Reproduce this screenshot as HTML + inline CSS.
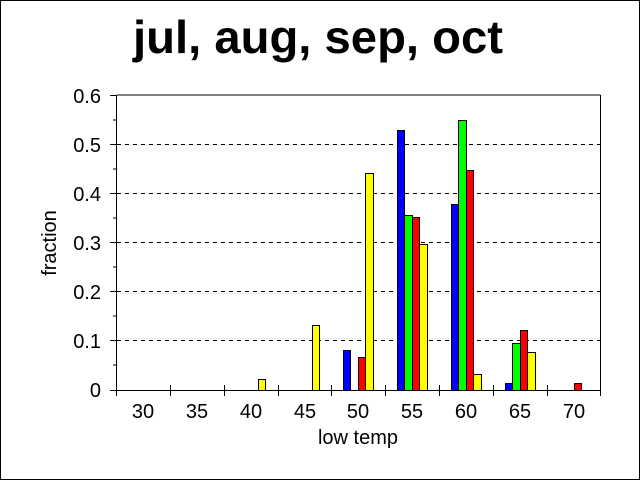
<!DOCTYPE html>
<html><head><meta charset="utf-8"><style>html,body{margin:0;padding:0;background:#fff}svg{display:block}</style></head><body>
<svg width="640" height="480" xmlns="http://www.w3.org/2000/svg" font-family="Liberation Sans, Arial, sans-serif">
<rect x="0.5" y="0.5" width="639" height="479" fill="#fff" stroke="#000"/>
<text x="318" y="53" font-size="46" font-weight="bold" text-anchor="middle" textLength="370" lengthAdjust="spacingAndGlyphs">jul, aug, sep, oct</text>
<g stroke="#000" stroke-dasharray="4,4" stroke-width="1">
<line x1="117" x2="600" y1="144.5" y2="144.5"/>
<line x1="117" x2="600" y1="193.5" y2="193.5"/>
<line x1="117" x2="600" y1="242.5" y2="242.5"/>
<line x1="117" x2="600" y1="291.5" y2="291.5"/>
<line x1="117" x2="600" y1="340.5" y2="340.5"/>
</g>
<g stroke="#000" stroke-width="1">
<line x1="116.5" y1="95" x2="600.5" y2="95"/>
<line x1="600.5" y1="95" x2="600.5" y2="396"/>
<line x1="116.5" y1="95" x2="116.5" y2="396"/>
<line x1="110" y1="390.5" x2="601" y2="390.5"/>
<g id="yt">
<line x1="110" x2="117" y1="95.5" y2="95.5"/><line x1="113" x2="117" y1="120" y2="120"/>
<line x1="110" x2="117" y1="144.5" y2="144.5"/><line x1="113" x2="117" y1="169" y2="169"/>
<line x1="110" x2="117" y1="193.5" y2="193.5"/><line x1="113" x2="117" y1="218" y2="218"/>
<line x1="110" x2="117" y1="242.5" y2="242.5"/><line x1="113" x2="117" y1="267" y2="267"/>
<line x1="110" x2="117" y1="291.5" y2="291.5"/><line x1="113" x2="117" y1="316" y2="316"/>
<line x1="110" x2="117" y1="340.5" y2="340.5"/><line x1="113" x2="117" y1="365" y2="365"/>
</g>
<line x1="170.5" x2="170.5" y1="385" y2="396"/><line x1="224.5" x2="224.5" y1="385" y2="396"/>
<line x1="278.5" x2="278.5" y1="385" y2="396"/><line x1="331.5" x2="331.5" y1="385" y2="396"/>
<line x1="385.5" x2="385.5" y1="385" y2="396"/><line x1="439.5" x2="439.5" y1="385" y2="396"/>
<line x1="493.5" x2="493.5" y1="385" y2="396"/><line x1="547.5" x2="547.5" y1="385" y2="396"/>
</g>
<g font-size="20" text-anchor="end">
<text x="101" y="103">0.6</text><text x="101" y="152">0.5</text><text x="101" y="201">0.4</text>
<text x="101" y="250">0.3</text><text x="101" y="299">0.2</text><text x="101" y="348">0.1</text><text x="101" y="397">0</text>
</g>
<g font-size="20" text-anchor="middle">
<text x="143" y="418">30</text><text x="197" y="418">35</text><text x="251" y="418">40</text>
<text x="305" y="418">45</text><text x="358" y="418">50</text><text x="412" y="418">55</text>
<text x="466" y="418">60</text><text x="520" y="418">65</text><text x="574" y="418">70</text>
<text x="358" y="444">low temp</text>
<text transform="translate(56,243) rotate(-90)">fraction</text>
</g>
<g stroke="#000" stroke-width="1">
<!-- 40 -->
<rect x="258.5" y="379.5" width="7" height="11" fill="#ff0"/>
<!-- 45 -->
<rect x="312.5" y="325.5" width="7" height="65" fill="#ff0"/>
<!-- 50 -->
<rect x="343.5" y="350.5" width="7" height="40" fill="#00f"/>
<rect x="358.5" y="357.5" width="7" height="33" fill="#f00"/>
<rect x="365.5" y="173.5" width="8" height="217" fill="#ff0"/>
<!-- 55 -->
<rect x="397.5" y="130.5" width="7" height="260" fill="#00f"/>
<rect x="404.5" y="215.5" width="8" height="175" fill="#0f0"/>
<rect x="412.5" y="217.5" width="7" height="173" fill="#f00"/>
<rect x="419.5" y="244.5" width="8" height="146" fill="#ff0"/>
<!-- 60 -->
<rect x="451.5" y="204.5" width="7" height="186" fill="#00f"/>
<rect x="458.5" y="120.5" width="8" height="270" fill="#0f0"/>
<rect x="466.5" y="170.5" width="7" height="220" fill="#f00"/>
<rect x="473.5" y="374.5" width="8" height="16" fill="#ff0"/>
<!-- 65 -->
<rect x="505.5" y="383.5" width="7" height="7" fill="#00f"/>
<rect x="512.5" y="343.5" width="8" height="47" fill="#0f0"/>
<rect x="520.5" y="330.5" width="7" height="60" fill="#f00"/>
<rect x="527.5" y="352.5" width="8" height="38" fill="#ff0"/>
<!-- 70 -->
<rect x="574.5" y="383.5" width="7" height="7" fill="#f00"/>
</g>
</svg>
</body></html>
